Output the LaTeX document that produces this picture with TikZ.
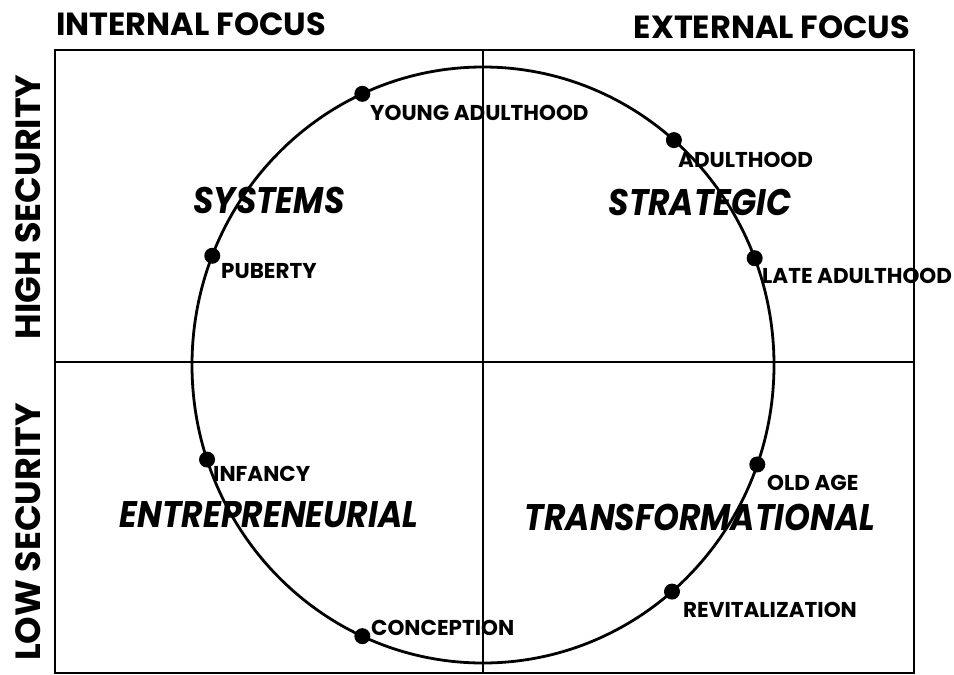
\documentclass[tikz,border=0pt]{standalone}
\usepackage{fontspec}
\setmainfont{Poppins}
\newcommand{\narrowtext}[1]{\scalebox{0.89}[1]{#1}}
\begin{document}
\begin{tikzpicture}[x=1pt,y=-1pt,
  frame/.style={line width=2.8pt},
  axisline/.style={line width=2.6pt},
  cycleline/.style={line width=2.8pt},
  stagedot/.style={circle,fill=black,inner sep=0pt,minimum size=16pt},
  stagelabel/.style={anchor=west,inner sep=0pt,font=\fontsize{21.5}{21.5}\selectfont\bfseries},
  quadlabel/.style={inner sep=0pt,font=\fontsize{37}{37}\selectfont\bfseries\itshape},
  focuslabel/.style={inner sep=0pt,font=\fontsize{32}{32}\selectfont\bfseries},
  securitylabel/.style={inner sep=0pt,rotate=90,font=\fontsize{35}{35}\selectfont\bfseries}]
  \useasboundingbox (0,0) rectangle (954,675);

  % outer frame and quadrant dividers
  \coordinate (nw) at (55,50);
  \coordinate (se) at (914,673);
  \coordinate (c) at (483,362);
  \draw[frame] (nw) rectangle (se);
  \draw[axisline] (c |- nw) -- (c |- se);
  \draw[axisline] (nw |- c) -- (se |- c);

  % life cycle
  \coordinate (o) at (483,365);
  \draw[cycleline] (o) ellipse [x radius=291, y radius=298];

  % stages on the cycle
  \path (o) ++(-114.5:291 and 298) node[stagedot] (ya) {};
  \path (o) ++(-49:291 and 298)    node[stagedot] (ad) {};
  \path (o) ++(-21:291 and 298)    node[stagedot] (la) {};
  \path (o) ++(-158.5:291 and 298) node[stagedot] (pu) {};
  \path (o) ++(161.5:291 and 298)  node[stagedot] (in) {};
  \path (o) ++(19.5:291 and 298)   node[stagedot] (oa) {};
  \path (o) ++(49.5:291 and 298)   node[stagedot] (re) {};
  \path (o) ++(114.5:291 and 298)  node[stagedot] (co) {};

  \node[stagelabel] (yal) at (370,113) {YOUNG ADULTHOOD};
  \node[stagelabel] (adl) at (678,160) {ADULTHOOD};
  \node[stagelabel] (lal) at (762,276) {LATE ADULTHOOD};
  \node[stagelabel] (pul) at (221,271) {PUBERTY};
  \node[stagelabel] (inl) at (213,474) {INFANCY};
  \node[stagelabel] (oal) at (767,483) {OLD AGE};
  \node[stagelabel] (rel) at (683,610) {REVITALIZATION};
  \node[stagelabel] (col) at (371,628) {CONCEPTION};

  % quadrant names
  \node[quadlabel] (sys) at (269,200) {\narrowtext{SYSTEMS}};
  \node[quadlabel] (str) at (700,202) {\narrowtext{STRATEGIC}};
  \node[quadlabel] (ent) at (269,515) {\narrowtext{ENTREPRENEURIAL}};
  \node[quadlabel] (tra) at (700,517) {\narrowtext{TRANSFORMATIONAL}};

  % axis titles
  \node[focuslabel] (int) at (191,24) {INTERNAL FOCUS};
  \node[focuslabel] (ext) at (772,27) {EXTERNAL FOCUS};
  \node[securitylabel] (hi) at (28,207) {HIGH SECURITY};
  \node[securitylabel] (lo) at (28,532) {LOW SECURITY};
\end{tikzpicture}
\end{document}
